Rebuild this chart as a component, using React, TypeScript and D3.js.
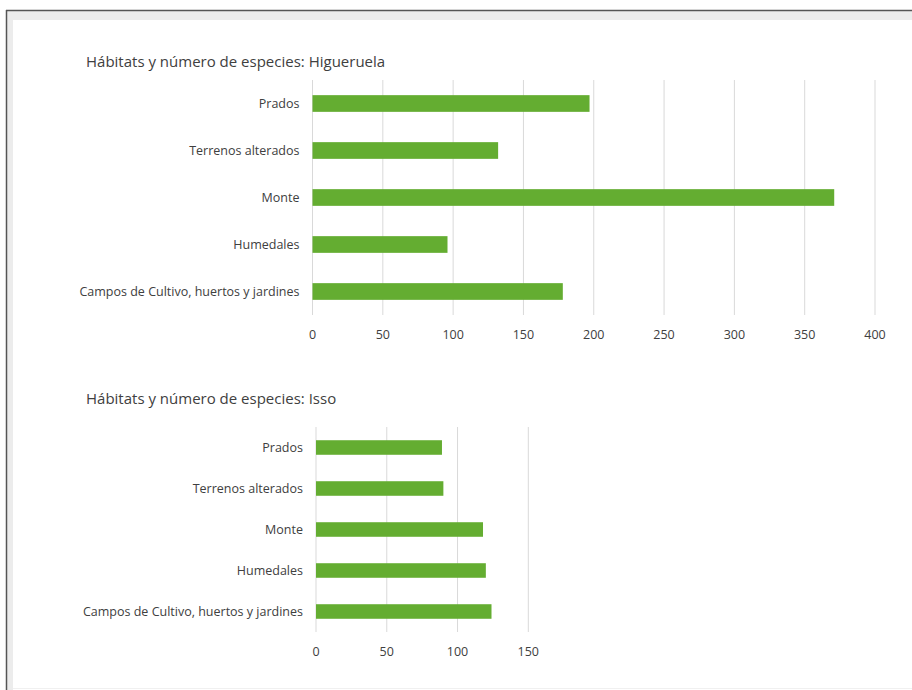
import React, { useEffect, useRef } from 'react';
import * as d3 from 'd3';

// habitat categories, top to bottom as drawn
const categories = [
  'Prados',
  'Terrenos alterados',
  'Monte',
  'Humedales',
  'Campos de Cultivo, huertos y jardines',
];

const higueruelaValues = [197, 132, 371, 96, 178];
const issoValues = [89, 90, 118, 120, 124];

const higueruelaTicks = [0, 50, 100, 150, 200, 250, 300, 350, 400];
const issoTicks = [0, 50, 100, 150];

const FONT = "'Open Sans', 'Noto Sans', sans-serif";
const BAR = '#64ad31';
const GRID = '#d9d9d9';
const TEXT = '#404040';

interface ChartCfg {
  title: string;
  values: number[];
  ticks: number[];
  titleX: number;
  titleY: number;
  x0: number;
  x1: number;
  top: number;
  bottom: number;
}

function drawChart(svg: d3.Selection<SVGSVGElement, unknown, null, undefined>, cfg: ChartCfg) {
  const g = svg.append('g');

  const x = d3.scaleLinear()
    .domain([0, cfg.ticks[cfg.ticks.length - 1]])
    .range([cfg.x0, cfg.x1]);

  // excel style gap width ~182%
  const y = d3.scaleBand<string>()
    .domain(categories)
    .range([cfg.top, cfg.bottom])
    .paddingInner(0.645)
    .paddingOuter(0.3225);

  g.append('text')
    .attr('x', cfg.titleX)
    .attr('y', cfg.titleY)
    .attr('fill', TEXT)
    .style('font-family', FONT)
    .style('font-size', '15px')
    .text(cfg.title);

  // gridlines
  g.selectAll('.grid')
    .data(cfg.ticks)
    .join('line')
    .attr('x1', d => x(d))
    .attr('x2', d => x(d))
    .attr('y1', cfg.top)
    .attr('y2', cfg.bottom)
    .attr('stroke', GRID)
    .attr('stroke-width', 1);

  // tick labels
  g.selectAll('.tick')
    .data(cfg.ticks)
    .join('text')
    .attr('x', d => x(d))
    .attr('y', cfg.bottom + 20)
    .attr('dy', '0.35em')
    .attr('text-anchor', 'middle')
    .attr('fill', TEXT)
    .style('font-family', FONT)
    .style('font-size', '12.5px')
    .text(d => d);

  // bars
  g.selectAll('.bar')
    .data(cfg.values)
    .join('rect')
    .attr('x', x(0))
    .attr('y', (_, i) => y(categories[i])!)
    .attr('width', d => x(d) - x(0))
    .attr('height', y.bandwidth())
    .attr('fill', BAR);

  // category labels
  g.selectAll('.cat')
    .data(categories)
    .join('text')
    .attr('x', x(0) - 13)
    .attr('y', d => y(d)! + y.bandwidth() / 2)
    .attr('dy', '0.35em')
    .attr('text-anchor', 'end')
    .attr('fill', TEXT)
    .style('font-family', FONT)
    .style('font-size', '12.5px')
    .text(d => d);
}

const App: React.FC = () => {
  const svgRef = useRef<SVGSVGElement | null>(null);

  useEffect(() => {
    const svg = d3.select(svgRef.current!);
    svg.selectAll('*').remove();

    const W = 912;
    const H = 690;

    svg.append('rect').attr('width', W).attr('height', H).attr('fill', '#fff');

    // window frame of the screenshot
    svg.append('rect').attr('x', 7).attr('y', 11).attr('width', W - 7).attr('height', 9).attr('fill', '#ececec');
    svg.append('rect').attr('x', 7).attr('y', 11).attr('width', 6).attr('height', H - 11).attr('fill', '#ececec');
    svg.append('line').attr('x1', 6).attr('x2', W).attr('y1', 10.5).attr('y2', 10.5).attr('stroke', '#555').attr('stroke-width', 1.5);
    svg.append('line').attr('x1', 6.5).attr('x2', 6.5).attr('y1', 10).attr('y2', H).attr('stroke', '#555').attr('stroke-width', 1.5);
    svg.append('line').attr('x1', 13).attr('x2', W).attr('y1', 688.5).attr('y2', 688.5).attr('stroke', '#f0f0f0').attr('stroke-width', 1);

    drawChart(svg, {
      title: 'Hábitats y número de especies: Higueruela',
      values: higueruelaValues,
      ticks: higueruelaTicks,
      titleX: 86,
      titleY: 67,
      x0: 312.5,
      x1: 875,
      top: 80,
      bottom: 315,
    });

    drawChart(svg, {
      title: 'Hábitats y número de especies: Isso',
      values: issoValues,
      ticks: issoTicks,
      titleX: 86,
      titleY: 404,
      x0: 316,
      x1: 528.3,
      top: 427,
      bottom: 632,
    });
  }, []);

  return (
    <svg
      ref={svgRef}
      width={912}
      height={690}
      style={{ position: 'absolute', left: 0, top: 0 }}
    />
  );
};

export default App;
